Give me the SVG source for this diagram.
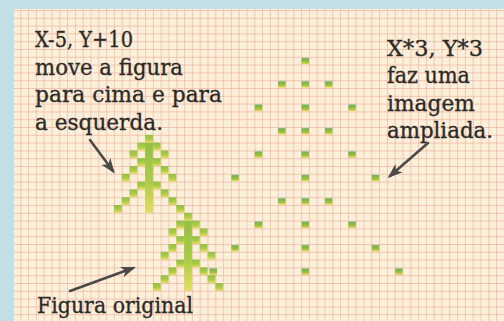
<svg xmlns="http://www.w3.org/2000/svg" xmlns:xlink="http://www.w3.org/1999/xlink" width="504" height="321" viewBox="0 0 504 321">
  <defs>
    <style>
      .label { font-family: "DejaVu Serif", "Liberation Serif", serif; font-size: 22px; fill: #2b2a28; stroke: #2b2a28; stroke-width: 0.3; }
      .arrow { stroke: #4a4a48; stroke-width: 2.6; fill: none; stroke-linecap: round; }
      .cell { fill: url(#cellFill); }
      .dot { fill: url(#dotFill); }
    </style>
    <!-- graph-paper grid, 7.8 px squares -->
    <pattern id="grid" patternUnits="userSpaceOnUse" x="12.5" y="10" width="7.8" height="7.8">
      <rect width="7.8" height="7.8" fill="#fcf0da"/>
      <path d="M0,0 H7.8 M0,0 V7.8" stroke="#f1b5a2" stroke-width="1.4"/>
    </pattern>
    <linearGradient id="cellFill" x1="0" y1="0" x2="0" y2="1">
      <stop offset="0" stop-color="#93c044"/>
      <stop offset="0.55" stop-color="#aacb4a"/>
      <stop offset="1" stop-color="#e4de60"/>
    </linearGradient>
    <linearGradient id="dotFill" x1="0" y1="0" x2="0" y2="1">
      <stop offset="0" stop-color="#bcdcd6"/>
      <stop offset="0.2" stop-color="#7fb04c"/>
      <stop offset="0.6" stop-color="#93c046"/>
      <stop offset="1" stop-color="#e4d84c"/>
    </linearGradient>
    <marker id="head" markerUnits="userSpaceOnUse" markerWidth="16" markerHeight="12" refX="12" refY="6" orient="auto">
      <path d="M0,0.5 L15,6 L0,11.5 L4,6 Z" fill="#4a4a48"/>
    </marker>
    <!-- small tree, one cell per picture element; origin = top-left of the top trunk cell -->
    <g id="tree-cells">
      <rect class="cell" x="0" y="0" width="7.8" height="7.8"/>
      <rect class="cell" x="0" y="7.8" width="7.8" height="70.2"/>
      <rect class="cell" x="-7.8" y="7.8" width="7.8" height="7.8"/>
      <rect class="cell" x="7.8" y="7.8" width="7.8" height="7.8"/>
      <rect class="cell" x="-15.6" y="15.6" width="7.8" height="7.8"/>
      <rect class="cell" x="15.6" y="15.6" width="7.8" height="7.8"/>
      <rect class="cell" x="-7.8" y="23.4" width="7.8" height="7.8"/>
      <rect class="cell" x="7.8" y="23.4" width="7.8" height="7.8"/>
      <rect class="cell" x="-15.6" y="31.2" width="7.8" height="7.8"/>
      <rect class="cell" x="15.6" y="31.2" width="7.8" height="7.8"/>
      <rect class="cell" x="-23.4" y="39" width="7.8" height="7.8"/>
      <rect class="cell" x="23.4" y="39" width="7.8" height="7.8"/>
      <rect class="cell" x="-7.8" y="46.8" width="7.8" height="7.8"/>
      <rect class="cell" x="7.8" y="46.8" width="7.8" height="7.8"/>
      <rect class="cell" x="-15.6" y="54.6" width="7.8" height="7.8"/>
      <rect class="cell" x="15.6" y="54.6" width="7.8" height="7.8"/>
      <rect class="cell" x="-23.4" y="62.4" width="7.8" height="7.8"/>
      <rect class="cell" x="23.4" y="62.4" width="7.8" height="7.8"/>
      <rect class="cell" x="-31.2" y="70.2" width="7.8" height="7.8"/>
      <rect class="cell" x="31.2" y="70.2" width="7.8" height="7.8"/>
    </g>
  </defs>

  <!-- page edge and paper -->
  <rect width="504" height="321" fill="#c3e0e6"/>
  <rect x="14" y="9" width="490" height="312" fill="url(#grid)"/>

  <!-- moved copy: X-5, Y+10 -->
  <g id="tree-moved">
    <use xlink:href="#tree-cells" x="145.1" y="134.8"/>
  </g>

  <!-- original figure -->
  <g id="tree-original">
    <use xlink:href="#tree-cells" x="184.1" y="212.8"/>
  </g>

  <!-- enlarged copy: X*3, Y*3, every point spread three cells apart -->
  <g id="tree-enlarged">
    <rect class="dot" x="301.5" y="57.2" width="7.5" height="7"/>
    <rect class="dot" x="278.1" y="80.6" width="7.5" height="7"/>
    <rect class="dot" x="301.5" y="80.6" width="7.5" height="7"/>
    <rect class="dot" x="324.9" y="80.6" width="7.5" height="7"/>
    <rect class="dot" x="254.7" y="104" width="7.5" height="7"/>
    <rect class="dot" x="301.5" y="104" width="7.5" height="7"/>
    <rect class="dot" x="348.3" y="104" width="7.5" height="7"/>
    <rect class="dot" x="278.1" y="127.4" width="7.5" height="7"/>
    <rect class="dot" x="301.5" y="127.4" width="7.5" height="7"/>
    <rect class="dot" x="324.9" y="127.4" width="7.5" height="7"/>
    <rect class="dot" x="254.7" y="150.8" width="7.5" height="7"/>
    <rect class="dot" x="301.5" y="150.8" width="7.5" height="7"/>
    <rect class="dot" x="348.3" y="150.8" width="7.5" height="7"/>
    <rect class="dot" x="231.3" y="174.2" width="7.5" height="7"/>
    <rect class="dot" x="301.5" y="174.2" width="7.5" height="7"/>
    <rect class="dot" x="371.7" y="174.2" width="7.5" height="7"/>
    <rect class="dot" x="278.1" y="197.6" width="7.5" height="7"/>
    <rect class="dot" x="301.5" y="197.6" width="7.5" height="7"/>
    <rect class="dot" x="324.9" y="197.6" width="7.5" height="7"/>
    <rect class="dot" x="254.7" y="221" width="7.5" height="7"/>
    <rect class="dot" x="301.5" y="221" width="7.5" height="7"/>
    <rect class="dot" x="348.3" y="221" width="7.5" height="7"/>
    <rect class="dot" x="231.3" y="244.4" width="7.5" height="7"/>
    <rect class="dot" x="301.5" y="244.4" width="7.5" height="7"/>
    <rect class="dot" x="371.7" y="244.4" width="7.5" height="7"/>
    <rect class="dot" x="209.5" y="267.8" width="7.5" height="7"/>
    <rect class="dot" x="301.5" y="267.8" width="7.5" height="7"/>
    <rect class="dot" x="395.1" y="267.8" width="7.5" height="7"/>
  </g>

  <!-- captions -->
  <g id="label-move">
    <text class="label" x="35" y="47" textLength="98" lengthAdjust="spacingAndGlyphs">X-5, Y+10</text>
    <text class="label" x="35" y="75" textLength="148" lengthAdjust="spacingAndGlyphs">move a figura</text>
    <text class="label" x="35" y="102" textLength="187" lengthAdjust="spacingAndGlyphs">para cima e para</text>
    <text class="label" x="35" y="130" textLength="128" lengthAdjust="spacingAndGlyphs">a esquerda.</text>
  </g>
  <g id="label-scale">
    <text class="label" x="387" y="56" textLength="96" lengthAdjust="spacingAndGlyphs">X*3, Y*3</text>
    <text class="label" x="387" y="83" textLength="83" lengthAdjust="spacingAndGlyphs">faz uma</text>
    <text class="label" x="387" y="111" textLength="88" lengthAdjust="spacingAndGlyphs">imagem</text>
    <text class="label" x="387" y="138" textLength="106" lengthAdjust="spacingAndGlyphs">ampliada.</text>
  </g>
  <g id="label-original">
    <text class="label" x="37" y="313" textLength="156" lengthAdjust="spacingAndGlyphs">Figura original</text>
  </g>

  <!-- pointer arrows -->
  <g id="connectors">
    <line class="arrow" x1="90" y1="140" x2="113" y2="171" marker-end="url(#head)"/>
    <line class="arrow" x1="70" y1="291" x2="133" y2="268" marker-end="url(#head)"/>
    <line class="arrow" x1="428" y1="143" x2="390" y2="176" marker-end="url(#head)"/>
  </g>
</svg>
